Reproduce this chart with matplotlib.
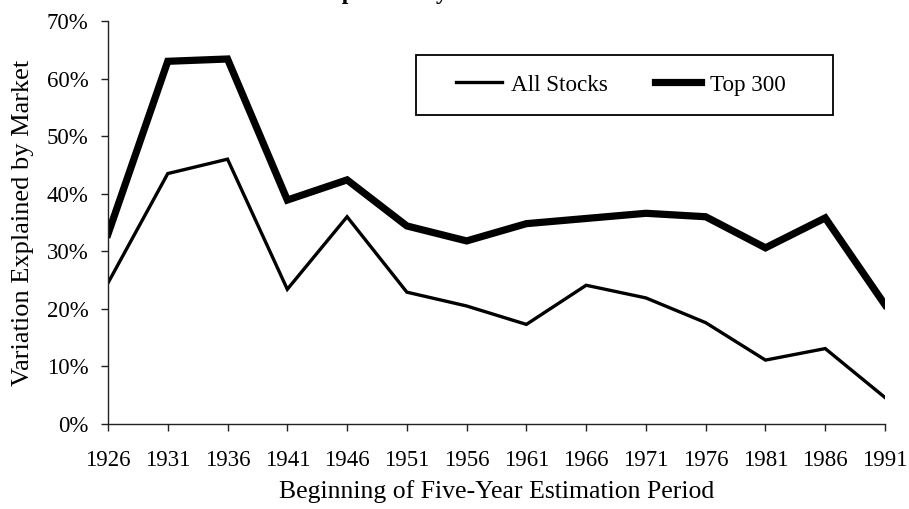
import matplotlib.pyplot as plt
from matplotlib.patches import Rectangle
from matplotlib.ticker import FuncFormatter

years = [1926, 1931, 1936, 1941, 1946, 1951, 1956, 1961, 1966, 1971, 1976, 1981, 1986, 1991]
all_stocks = [24.5, 43.5, 46.0, 23.4, 36.0, 22.9, 20.5, 17.3, 24.1, 21.9, 17.6, 11.1, 13.1, 4.6]
top_300 = [33.0, 63.0, 63.4, 38.9, 42.4, 34.4, 31.8, 34.8, 35.7, 36.6, 36.0, 30.6, 35.8, 20.7]

yticks = [0, 10, 20, 30, 40, 50, 60, 70]

plt.rcParams['font.family'] = ['Liberation Serif', 'DejaVu Serif']

fig = plt.figure(figsize=(9.09, 5.09), dpi=100)
ax = fig.add_axes([108 / 909, 85 / 509, 777 / 909, 403 / 509])

ax.plot(years, all_stocks, color='black', lw=2.4, solid_joinstyle='miter', label='All Stocks')
ax.plot(years, top_300, color='black', lw=5.2, solid_joinstyle='miter', label='Top 300')

ax.set_xlim(years[0], years[-1])
ax.set_ylim(0, 70)
ax.set_xticks(years)
ax.set_yticks(yticks)
ax.yaxis.set_major_formatter(FuncFormatter(lambda v, p: f'{v:.0f}%'))

for s in ['top', 'right']:
    ax.spines[s].set_visible(False)
for s in ['left', 'bottom']:
    ax.spines[s].set_linewidth(1.0)
    ax.spines[s].set_color('#222222')
ax.tick_params(axis='y', direction='out', length=5, width=1.0, pad=9, labelsize=16.5, color='#222222')
ax.tick_params(axis='x', direction='out', length=5, width=1.0, pad=14, labelsize=16.5, color='#222222')

ax.set_ylabel('Variation Explained by Market', fontsize=19, va='center', ha='center')
ax.yaxis.set_label_coords(-85 / 777, 0.5)
ax.set_xlabel('Beginning of Five-Year Estimation Period', fontsize=18.5, va='center', ha='center')
ax.xaxis.set_label_coords(0.5, -68 / 403)

# legend box
fig.patches.append(Rectangle((416 / 909, 1 - 115 / 509), 417 / 909, 60 / 509,
                             transform=fig.transFigure, fill=False, edgecolor='black', lw=1.3))
fig.legend(loc='center', bbox_to_anchor=(621 / 909, 1 - 85 / 509), ncol=2, frameon=False,
           fontsize=16.7, handlelength=2.0, handletextpad=0.4, columnspacing=2.0)

# clipped title at the top edge
fig.text(0.429, 1.0 + 1 / 509, 'Variation Explained by the Market', ha='center', va='baseline',
         fontsize=17, fontweight='bold')

fig.savefig('out.png', dpi=100)
